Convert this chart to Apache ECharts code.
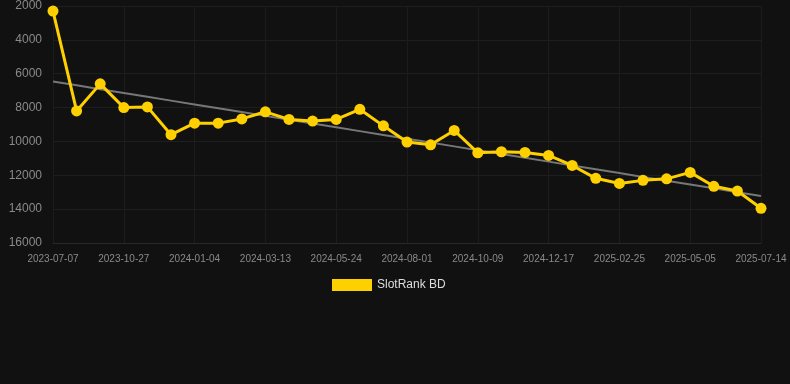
<!DOCTYPE html>
<html><head><meta charset="utf-8">
<script src="https://cdn.jsdelivr.net/npm/echarts@6/dist/echarts.min.js"></script>
<style>html,body{margin:0;padding:0;background:#111111;}#c{width:790px;height:384px;}</style>
</head><body><div id="c"></div>
<script>
var dates = ["2023-07-07","2023-08-14","2023-09-20","2023-10-27","2023-11-19","2023-12-12","2024-01-04","2024-01-27","2024-02-19","2024-03-13","2024-04-06","2024-04-30","2024-05-24","2024-06-16","2024-07-09","2024-08-01","2024-08-24","2024-09-16","2024-10-09","2024-11-01","2024-11-24","2024-12-17","2025-01-09","2025-02-01","2025-02-25","2025-03-20","2025-04-12","2025-05-05","2025-05-28","2025-06-20","2025-07-14"];
var ranks = [2300,8200,6600,8000,7960,9600,8920,8920,8670,8250,8700,8800,8700,8100,9080,10040,10200,9350,10670,10610,10650,10830,11420,12180,12480,12300,12210,11830,12650,12930,13950];
var yTicks = [2000,4000,6000,8000,10000,12000,14000,16000];
var seriesName = "SlotRank BD";

// least-squares trend from the data
var n = ranks.length, sx=0, sy=0, sxy=0, sxx=0;
for (var i=0;i<n;i++){sx+=i;sy+=ranks[i];sxy+=i*ranks[i];sxx+=i*i;}
var slope=(n*sxy-sx*sy)/(n*sxx-sx*sx), icpt=(sy-slope*sx)/n;
var trend = ranks.map(function(_,i){return icpt+slope*i;});

var chart = echarts.init(document.getElementById('c'));
chart.setOption({
  backgroundColor:'#111111',
  animation:false,
  grid:{left:53,right:29,top:6,bottom:141},
  legend:{data:[seriesName],bottom:88,left:327,itemWidth:40,itemHeight:12,icon:'rect',
    textStyle:{color:'#dddddd',fontSize:12,fontFamily:'Liberation Sans, Arial'}},
  xAxis:{type:'category',data:dates,boundaryGap:false,
    axisLine:{show:true,lineStyle:{color:'#282828'}},axisTick:{show:false},
    axisLabel:{color:'#8a8a8a',fontSize:10,interval:2,margin:11,fontFamily:'Liberation Sans, Arial'},
    splitLine:{show:true,interval:2,lineStyle:{color:'#1c1c1c'}}},
  yAxis:{type:'value',inverse:true,min:yTicks[0],max:yTicks[yTicks.length-1],interval:2000,
    axisLine:{show:false},axisTick:{show:false},
    axisLabel:{color:'#8a8a8a',fontSize:12,margin:11,fontFamily:'Liberation Sans, Arial',
      formatter:function(v){return String(v);}},
    splitLine:{lineStyle:{color:'#1e1e1e'}}},
  series:[
    {name:'trend',type:'line',data:trend,symbol:'none',silent:true,
      lineStyle:{color:'#777777',width:2},z:1},
    {name:seriesName,type:'line',data:ranks,symbol:'circle',symbolSize:11,
      itemStyle:{color:'#FFD000'},lineStyle:{color:'#FFD000',width:3},z:2}
  ]
});
</script></body></html>
